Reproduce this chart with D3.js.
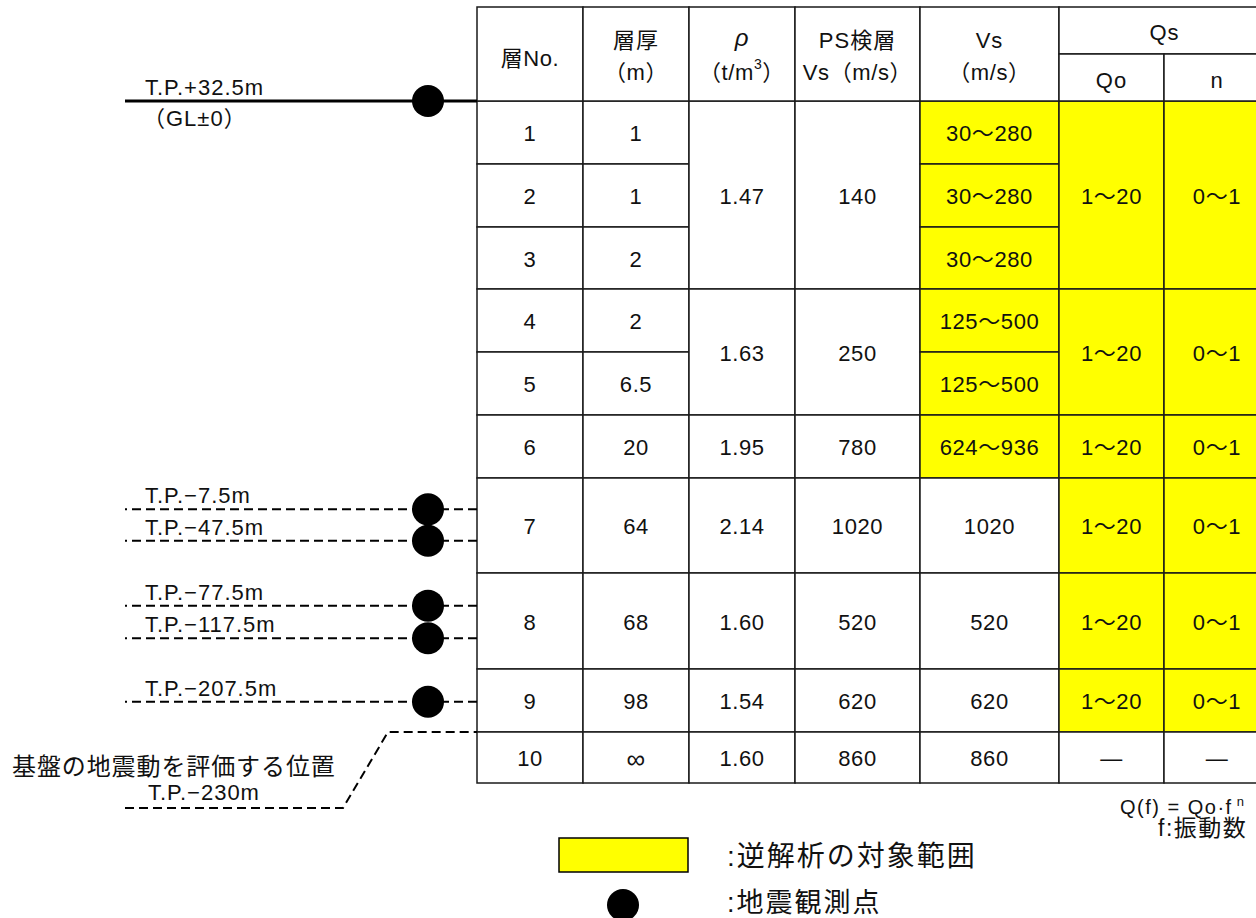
<!DOCTYPE html>
<html><head><meta charset="utf-8">
<script src="https://cdn.jsdelivr.net/npm/d3@7"></script>
<style>
html,body{margin:0;padding:0;background:#fff;}
svg text{font-family:'Liberation Sans','Noto Sans CJK JP',sans-serif;fill:#111;}
</style></head>
<body>
<svg id="chart" width="1256" height="918"></svg>
<script>
// ---------------- data ----------------
const headers = [["層No."],["層厚","（m）"],["ρ","（t/m³）"],["PS検層","Vs（m/s）"],["Vs","（m/s）"]];
const qsHeader = "Qs";
const qsSubHeaders = ["Qo","n"];
const layerNo = ["1","2","3","4","5","6","7","8","9","10"];
const thickness = ["1","1","2","2","6.5","20","64","68","98","∞"];
// [value, firstRow, lastRow(exclusive)]
const density = [["1.47",0,3],["1.63",3,5],["1.95",5,6],["2.14",6,7],["1.60",7,8],["1.54",8,9],["1.60",9,10]];
const psLoggingVs = [["140",0,3],["250",3,5],["780",5,6],["1020",6,7],["520",7,8],["620",8,9],["860",9,10]];
const vsValues = ["30〜280","30〜280","30〜280","125〜500","125〜500","624〜936","1020","520","620","860"];
const vsIsTarget = [true,true,true,true,true,true,false,false,false,false];
// [value, firstRow, lastRow, isTarget]
const qoValues = [["1〜20",0,3,true],["1〜20",3,5,true],["1〜20",5,6,true],["1〜20",6,7,true],["1〜20",7,8,true],["1〜20",8,9,true],["―",9,10,false]];
const nValues  = [["0〜1",0,3,true],["0〜1",3,5,true],["0〜1",5,6,true],["0〜1",6,7,true],["0〜1",7,8,true],["0〜1",8,9,true],["―",9,10,false]];
// observation points: label, layer row, position inside layer
const stationLabels = ["T.P.+32.5m","T.P.−7.5m","T.P.−47.5m","T.P.−77.5m","T.P.−117.5m","T.P.−207.5m"];
const stationRow = [0,6,6,7,7,8];
const stationFrac = [0,0.33,0.66,0.34,0.68,0.52];
const groundSubLabel = "（GL±0）";
const baseLabel = "基盤の地震動を評価する位置";
const baseDepth = "T.P.−230m";
const baseRow = 9;
const legendLabels = [":逆解析の対象範囲", ":地震観測点"];
const formulaText = ["Q(f) = Qo·f", "n", "f:振動数"];

// ---------------- layout ----------------
const svg = d3.select("#chart");
const YELLOW = "#FFFF00", LINE = "#1a1a1a";
const colEdges = [477,583,689,795,920,1059,1164,1270];
const headTop = 7, headBottom = 101, qsMid = 54;
const rowHeights = [63,63,62,63,63,63,95,96,63,51];
const bounds = [headBottom];
rowHeights.forEach(h => bounds.push(bounds[bounds.length-1] + h));
const y = d3.scaleLinear().domain(d3.range(bounds.length)).range(bounds);
const colX = i => colEdges[i];
const colMid = i => (colEdges[i] + colEdges[i+1]) / 2;
const FS = 22;

const gTable = svg.append("g");

function cells(col, items, valueFn, r0Fn, r1Fn, fillFn) {
  const g = gTable.append("g");
  g.selectAll("rect").data(items).join("rect")
    .attr("x", colX(col)).attr("width", colX(col+1) - colX(col))
    .attr("y", d => y(r0Fn(d))).attr("height", d => y(r1Fn(d)) - y(r0Fn(d)))
    .attr("fill", d => fillFn(d) ? YELLOW : "#fff")
    .attr("stroke", LINE).attr("stroke-width", 1.5);
  g.selectAll("text").data(items).join("text")
    .attr("x", colMid(col)).attr("y", d => (y(r0Fn(d)) + y(r1Fn(d))) / 2 + 1)
    .attr("text-anchor", "middle").attr("dominant-baseline", "central")
    .attr("font-size", d => valueFn(d) === "∞" ? 26 : FS).attr("letter-spacing", 0.6)
    .text(valueFn);
}
const idx = d3.range(layerNo.length);
cells(0, idx, i => layerNo[i], i => i, i => i+1, () => false);
cells(1, idx, i => thickness[i], i => i, i => i+1, () => false);
cells(2, density, d => d[0], d => d[1], d => d[2], () => false);
cells(3, psLoggingVs, d => d[0], d => d[1], d => d[2], () => false);
cells(4, idx, i => vsValues[i], i => i, i => i+1, i => vsIsTarget[i]);
cells(5, qoValues, d => d[0], d => d[1], d => d[2], d => d[3]);
cells(6, nValues, d => d[0], d => d[1], d => d[2], d => d[3]);

// header
const gHead = svg.append("g");
headers.forEach((h, i) => {
  gHead.append("rect").attr("x", colX(i)).attr("y", headTop)
    .attr("width", colX(i+1)-colX(i)).attr("height", headBottom-headTop)
    .attr("fill", "#fff").attr("stroke", LINE).attr("stroke-width", 1.5);
  if (h.length === 1) {
    gHead.append("text").attr("x", colMid(i)).attr("y", 58).attr("text-anchor","middle")
      .attr("dominant-baseline","central").attr("font-size", FS).attr("letter-spacing", 0.6).text(h[0]);
  } else {
    const t1 = gHead.append("text").attr("x", colMid(i)).attr("y", i===2 ? 37 : 40).attr("text-anchor","middle")
      .attr("dominant-baseline","central").attr("font-size", i===2 ? 24 : FS).attr("letter-spacing", 1).text(h[0]);
    if (i === 2) t1.attr("font-style","italic");
    const t2 = gHead.append("text").attr("x", colMid(i)).attr("y", 72).attr("text-anchor","middle")
      .attr("dominant-baseline","central").attr("font-size", FS).attr("letter-spacing", 0.6);
    if (h[1].includes("³")) {
      const parts = h[1].split("³");
      t2.append("tspan").text(parts[0]);
      t2.append("tspan").attr("font-size", 14).attr("dy", -8).text("3");
      t2.append("tspan").attr("dy", 8).text(parts[1]);
    } else t2.text(h[1]);
  }
});
gHead.append("rect").attr("x", colX(5)).attr("y", headTop).attr("width", colX(7)-colX(5))
  .attr("height", qsMid-headTop).attr("fill","#fff").attr("stroke",LINE).attr("stroke-width",1.5);
gHead.append("text").attr("x", (colX(5)+colX(7))/2).attr("y", 32).attr("text-anchor","middle")
  .attr("dominant-baseline","central").attr("font-size", FS).attr("letter-spacing", 1).text(qsHeader);
qsSubHeaders.forEach((s, k) => {
  const i = 5 + k;
  gHead.append("rect").attr("x", colX(i)).attr("y", qsMid).attr("width", colX(i+1)-colX(i))
    .attr("height", headBottom-qsMid).attr("fill","#fff").attr("stroke",LINE).attr("stroke-width",1.5);
  gHead.append("text").attr("x", colMid(i)).attr("y", 80).attr("text-anchor","middle")
    .attr("dominant-baseline","central").attr("font-size", FS).attr("letter-spacing", 1).text(s);
});

// ---------------- left profile ----------------
const gLeft = svg.append("g");
const lineX0 = 125, lineX1 = colEdges[0], dotX = 428, R = 16;
const stY = stationLabels.map((_, i) => y(stationRow[i] + stationFrac[i]));
const dashes = "2,5," + d3.range(30).map(() => "9,5").join(",");
stationLabels.forEach((lab, i) => {
  gLeft.append("line").attr("x1", lineX0).attr("x2", lineX1).attr("y1", stY[i]).attr("y2", stY[i])
    .attr("stroke", "#000").attr("stroke-width", i === 0 ? 3 : 2)
    .attr("stroke-dasharray", i === 0 ? null : dashes);
  gLeft.append("circle").attr("cx", dotX).attr("cy", stY[i]).attr("r", R).attr("fill", "#000");
  gLeft.append("text").attr("x", 145).attr("y", stY[i] - 6).attr("font-size", 22)
    .attr("letter-spacing", 1).text(lab);
});
gLeft.append("text").attr("x", 143).attr("y", stY[0] + 25).attr("font-size", 22)
  .attr("letter-spacing", 1).text(groundSubLabel);

// base line
const baseY = y(baseRow);
const baseLowY = 808;
gLeft.append("path")
  .attr("d", d3.line()([[lineX0, baseLowY],[343, baseLowY],[388, baseY],[lineX1, baseY]]))
  .attr("fill","none").attr("stroke","#000").attr("stroke-width",2)
  .attr("stroke-dasharray","9,5");
gLeft.append("text").attr("x", 12).attr("y", 775).attr("font-size", 24)
  .attr("letter-spacing", 0.9).text(baseLabel);
gLeft.append("text").attr("x", 148).attr("y", 800).attr("font-size", 22)
  .attr("letter-spacing", 1).text(baseDepth);

// ---------------- legend ----------------
const gLeg = svg.append("g");
gLeg.append("rect").attr("x", 559).attr("y", 838).attr("width", 129).attr("height", 34)
  .attr("fill", YELLOW).attr("stroke", "#000").attr("stroke-width", 1.5);
gLeg.append("circle").attr("cx", 623).attr("cy", 905).attr("r", R).attr("fill", "#000");
gLeg.append("text").attr("x", 727).attr("y", 856).attr("dominant-baseline","central")
  .attr("font-size", 28).attr("letter-spacing", 2).text(legendLabels[0]);
gLeg.append("text").attr("x", 727).attr("y", 903).attr("dominant-baseline","central")
  .attr("font-size", 27).attr("letter-spacing", 2).text(legendLabels[1]);

// formula
const tf = svg.append("text").attr("x", 1120).attr("y", 814).attr("font-size", 20).attr("letter-spacing", 1.5);
tf.append("tspan").text(formulaText[0]);
tf.append("tspan").attr("dx", 4).attr("dy", -8).attr("font-size", 13).text(formulaText[1]);
svg.append("text").attr("x", 1158).attr("y", 836).attr("font-size", 23).attr("letter-spacing", 1.5).text(formulaText[2]);
</script>
</body></html>
